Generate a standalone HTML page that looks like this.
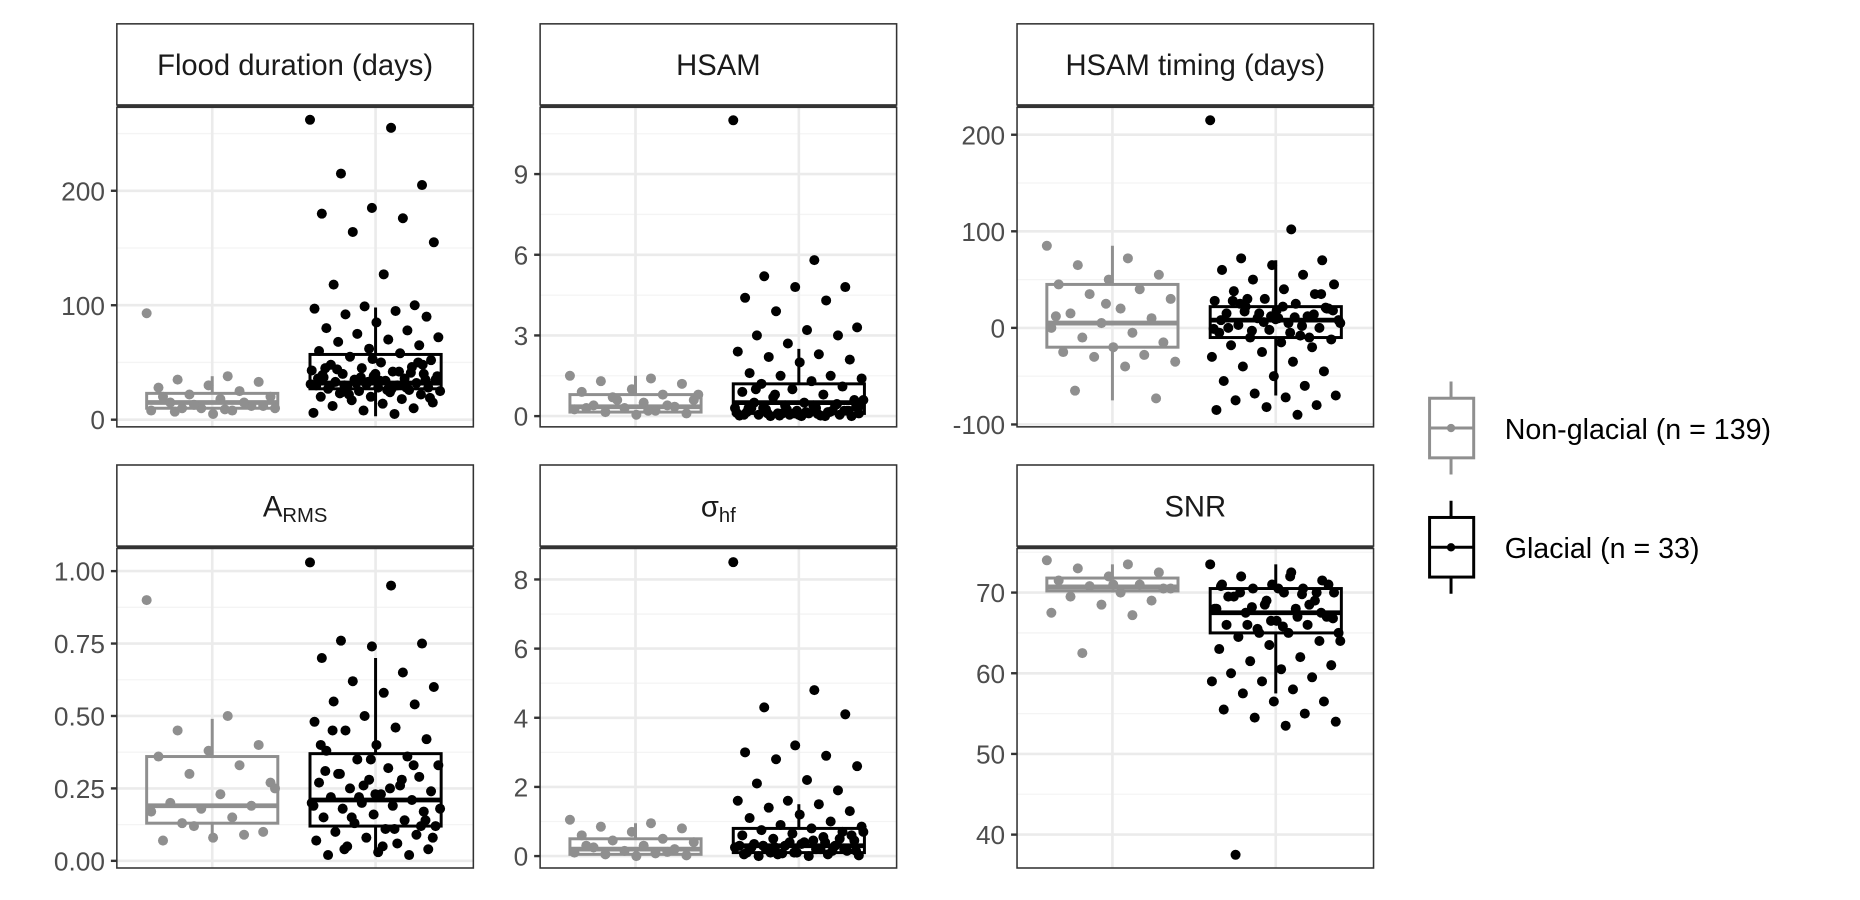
<!DOCTYPE html>
<html><head><meta charset="utf-8"><style>
html,body{margin:0;padding:0;background:#fff;width:1860px;height:900px;overflow:hidden;}
svg{display:block;font-family:"Liberation Sans",Arial,sans-serif;}
</style></head><body>
<svg id="chart" width="1860" height="900" viewBox="0 0 1560 754.84" preserveAspectRatio="none" xmlns="http://www.w3.org/2000/svg"></svg>
<script>
const categories = ["Non-glacial","Glacial"];
const panelTitles = ["Flood duration (days)","HSAM","HSAM timing (days)","A_RMS","σ_hf","SNR"];
const ticks1=[0,100,200], ticks2=[0,3,6,9], ticks3=[-100,0,100,200], ticks4=[0,0.25,0.5,0.75,1.0], ticks5=[0,2,4,6,8], ticks6=[40,50,60,70];
const tickLabels4=["0.00","0.25","0.50","0.75","1.00"];
// box stats [lowWhisker,q1,median,q3,highWhisker]
const boxNG1=[5,10,15,23,38], boxG1=[3,27,32,57,98];
const boxNG2=[0,0.15,0.35,0.8,1.5], boxG2=[0,0.1,0.5,1.2,2.5];
const boxNG3=[-75,-20,5,45,85], boxG3=[-70,-10,8,22,70];
const boxNG4=[0.07,0.13,0.19,0.36,0.49], boxG4=[0.02,0.12,0.21,0.37,0.70];
const boxNG5=[0,0.05,0.2,0.5,0.95], boxG5=[0,0.1,0.3,0.8,1.5];
const boxNG6=[70,70.2,70.7,71.8,73.5], boxG6=[57.5,65,67.5,70.5,73.5];
const ptsNG1=[93,38,35,33,30,28,25,22,20,18,15,12,10,8,8,10,12,5,20,15,13,10,9,7];
const ptsG1=[262,255,215,205,185,180,176,164,155,127,118,100,99,97,95,92,90,85,80,78,75,72,70,68,65,62,60,58,55,52,50,48,46,45,43,42,40,40,38,37,36,35,35,34,33,32,31,30,30,29,28,28,27,26,25,25,24,23,22,20,20,18,17,15,14,12,10,8,6,5,30,35,40,45,28,32,38,26,44,50,33,36,42,22,19,34,29,41,37,31,27,24,48,53,39];
const ptsNG2=[1.5,1.4,1.3,1.2,1.0,0.9,0.8,0.7,0.6,0.5,0.4,0.35,0.3,0.25,0.2,0.15,0.1,0.05,0.3,0.4,0.6,0.8,0.2];
const ptsG2=[11,5.8,5.2,4.8,4.8,4.4,4.3,3.9,3.3,3.2,3.0,3.0,2.7,2.4,2.3,2.2,2.1,2.0,1.6,1.5,1.5,1.4,1.3,1.2,1.1,1.0,0.9,0.8,0.7,0.6,0.5,0.5,0.4,0.4,0.3,0.3,0.25,0.2,0.2,0.15,0.15,0.1,0.1,0.1,0.05,0.05,0.05,0.02,0.02,0,0,0,0.3,0.2,0.1,0.6,0.4,0.3,0.2,0.1,0.05,0,0.8,0.35,0.15,1.0,0.45,0.25,0.12,0.08,0.1,0.2,0.05,0.3,0.15,0.02,0.4];
const ptsNG3=[85,72,65,55,50,45,40,35,30,20,15,10,5,0,-5,-10,-15,-20,-25,-28,-30,-35,-40,-65,-73,25,12];
const ptsG3=[215,102,72,70,65,60,55,50,45,40,38,35,30,28,25,22,20,18,15,12,10,8,5,3,0,-2,-5,-8,-10,-12,-15,-18,-20,-25,-30,-35,-40,-45,-50,-55,-60,-68,-70,-72,-75,-80,-82,-85,-90,30,20,10,0,-10,15,5,-5,25,35,12,8,2,-3,18,22,28,14,6,-1,11,17,21,9];
const ptsNG4=[0.90,0.50,0.45,0.40,0.38,0.36,0.33,0.30,0.27,0.23,0.20,0.19,0.18,0.17,0.15,0.13,0.10,0.08,0.07,0.09,0.12,0.25];
const ptsG4=[1.03,0.95,0.76,0.75,0.74,0.70,0.65,0.62,0.60,0.58,0.55,0.54,0.50,0.48,0.46,0.45,0.42,0.40,0.38,0.36,0.35,0.33,0.32,0.30,0.29,0.28,0.27,0.26,0.25,0.24,0.23,0.22,0.21,0.20,0.20,0.19,0.18,0.17,0.16,0.15,0.14,0.13,0.12,0.11,0.10,0.09,0.08,0.07,0.06,0.05,0.04,0.03,0.02,0.02,0.22,0.18,0.25,0.30,0.12,0.35,0.40,0.28,0.15,0.08,0.05,0.45,0.33,0.26,0.19,0.11,0.04,0.14,0.23,0.31];
const ptsNG5=[1.05,0.95,0.85,0.80,0.70,0.60,0.50,0.45,0.40,0.30,0.25,0.20,0.15,0.10,0.08,0.05,0.02,0,0.3,0.12];
const ptsG5=[8.5,4.8,4.3,4.1,3.2,3.0,2.9,2.8,2.6,2.2,2.1,1.9,1.6,1.6,1.5,1.4,1.3,1.2,1.1,1.0,0.9,0.85,0.8,0.75,0.7,0.65,0.6,0.55,0.5,0.45,0.4,0.35,0.3,0.3,0.25,0.2,0.2,0.15,0.1,0.1,0.05,0.05,0.02,0,0,0.5,0.4,0.3,0.2,0.1,0.6,0.35,0.25,0.15,0.08,0.7,0.45,0.3,0.2,0.1,0.05,0.4,0.25,0.15];
const ptsNG6=[74,73.5,73,72.5,72,71.5,71,70.8,70.5,70,69.5,69,68.5,67.5,67.2,62.5,70.5,71];
const ptsG6=[73.5,72.5,72,71.5,71,71,70.5,70.5,70,70,69.5,69,68.5,68,68,67.5,67,66.5,66,66,65.5,65,65,64.5,64,63.5,63,62,61.5,61,60.5,60,59.5,59,59,58,57.5,56.5,56.5,55.5,55,54.5,54,53.5,37.5,70,69,68,67,66,71,70.5,69.5,68.5,65,64,72,70,67.5,66.5,70.8,69.8,68.2,66.8,65.8];

const svg=document.getElementById('chart');
const NS='http://www.w3.org/2000/svg';
function mk(tag,attrs,parent){const e=document.createElementNS(NS,tag);for(const k in attrs)e.setAttribute(k,attrs[k]);(parent||svg).appendChild(e);return e;}
const GRAY='#8f8f8f';
const cols=[98,453,853], W=299;
const rows=[{st:20,pt:90,pb:358},{st:390,pt:460,pb:728}];
const scales=[[0,352,200,160],[0,349,9,146],[-100,356,200,113],[0,722,1,479],[0,718,8,486],[40,700,70,497]];
const tickSets=[ticks1,ticks2,ticks3,ticks4,ticks5,ticks6];
const boxesNG=[boxNG1,boxNG2,boxNG3,boxNG4,boxNG5,boxNG6];
const boxesG=[boxG1,boxG2,boxG3,boxG4,boxG5,boxG6];
const ptsNG=[ptsNG1,ptsNG2,ptsNG3,ptsNG4,ptsNG5,ptsNG6];
const ptsG=[ptsG1,ptsG2,ptsG3,ptsG4,ptsG5,ptsG6];

for(let p=0;p<6;p++){
  const L=cols[p%3], R=L+W, row=rows[Math.floor(p/3)];
  const s=scales[p];
  const y=v=>s[1]+(v-s[0])*(s[3]-s[1])/(s[2]-s[0]);
  const xc=i=>L+80+i*137;
  const g=mk('g',{});
  
  
  const clipId='clip'+p;
  const cp=mk('clipPath',{id:clipId},g);mk('rect',{x:L,y:row.pt,width:W,height:row.pb-row.pt},cp);
  const inner=mk('g',{'clip-path':'url(#'+clipId+')'},g);
  const tks=tickSets[p];
  const step=tks[1]-tks[0];
  for(let v=tks[0]-step*2;v<=tks[tks.length-1]+step*2;v+=step/2){
    const major=Math.abs(Math.round(v/step)*step-v)<1e-9;
    const gl=mk('line',{x1:L,x2:R,y1:y(v),y2:y(v),stroke:major?'#ebebeb':'#f4f4f4','stroke-width':major?2.2:1.1},inner);
    
    
  }
  for(let i=0;i<2;i++){mk('line',{x1:xc(i),x2:xc(i),y1:row.pt,y2:row.pb,stroke:'#ebebeb','stroke-width':2.2},inner);}
  [[boxesNG[p],ptsNG[p],GRAY,0],[boxesG[p],ptsG[p],'#000',1]].forEach(([b,pts,c,i])=>{
    const cx=xc(i);
    const bg=mk('g',{},inner);
    
    
    mk('line',{x1:cx,x2:cx,y1:y(b[0]),y2:y(b[1]),stroke:c,'stroke-width':2.5},bg);
    mk('line',{x1:cx,x2:cx,y1:y(b[3]),y2:y(b[4]),stroke:c,'stroke-width':2.5},bg);
    mk('rect',{x:cx-55,y:y(b[3]),width:110,height:y(b[1])-y(b[3]),fill:'none',stroke:c,'stroke-width':2.5},bg);
    mk('line',{x1:cx-55,x2:cx+55,y1:y(b[2]),y2:y(b[2]),stroke:c,'stroke-width':4},bg);
    pts.forEach((v,k)=>{
      const j=((k*0.6180339)%1)*2-1;
      const pt=mk('circle',{cx:cx+j*55,cy:y(v),r:4.2,fill:c},inner);
      
      
    });
  });
  mk('rect',{x:L,y:row.pt,width:W,height:row.pb-row.pt,fill:'none',stroke:'#333','stroke-width':1.3},g);
  tks.forEach((v,k)=>{
    mk('line',{x1:L-5,x2:L,y1:y(v),y2:y(v),stroke:'#333','stroke-width':2},g);
    const t=mk('text',{x:L-10,y:y(v)+8,'text-anchor':'end','font-size':22,fill:'#4d4d4d'},g);
    t.textContent=(p===3?tickLabels4[k]:String(v));
    
    
  });
  const st=mk('rect',{x:L,y:row.st,width:W,height:row.pt-row.st-2,fill:'#fff',stroke:'#333','stroke-width':1.3},g);
  
  
  mk('line',{x1:L,x2:R,y1:row.pt-1,y2:row.pt-1,stroke:'#333','stroke-width':2},g);
  const tt=mk('text',{x:L+W/2,y:row.st+43,'text-anchor':'middle','font-size':24.5,fill:'#1a1a1a'},g);
  
  
  const title=panelTitles[p];
  if(title.includes('_')){
    const [a,b]=title.split('_');
    const t1=mk('tspan',{},tt);t1.textContent=a;
    const t2=mk('tspan',{'font-size':17,dy:5},tt);t2.textContent=b;
  } else tt.textContent=title;
}
[[GRAY,320,categories[0]+' (n = 139)'],[ '#000',420,categories[1]+' (n = 33)']].forEach(([c,t,lab])=>{
  const g=mk('g',{});
  
  
  mk('line',{x1:1217,x2:1217,y1:t,y2:t+78,stroke:c,'stroke-width':2.5},g);
  mk('rect',{x:1199,y:t+14,width:37,height:50,fill:'#fff',stroke:c,'stroke-width':2.5},g);
  mk('line',{x1:1199,x2:1236,y1:t+39,y2:t+39,stroke:c,'stroke-width':2.5},g);
  mk('circle',{cx:1217,cy:t+39,r:3.5,fill:c},g);
  const tx=mk('text',{x:1262,y:t+48,'font-size':24,fill:'#000'},g);
  tx.textContent=lab;
});
</script>
</body></html>
